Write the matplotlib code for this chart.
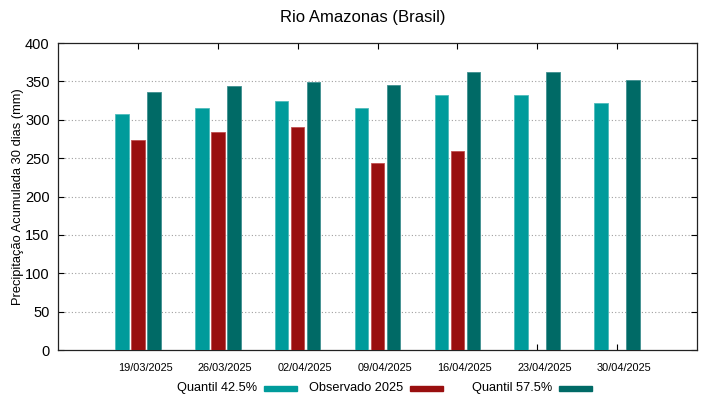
import matplotlib.pyplot as plt
from matplotlib.patches import Rectangle
import numpy as np

plt.rcParams['font.family'] = ['Liberation Sans', 'DejaVu Sans']

# Data
datas = ['19/03/2025', '26/03/2025', '02/04/2025', '09/04/2025',
         '16/04/2025', '23/04/2025', '30/04/2025']
q425 = [307.5, 315.7, 324, 315.7, 332.7, 332.7, 321.8]
observado = [273.6, 284, 290, 243.6, 259, np.nan, np.nan]
q575 = [335.7, 344, 349, 345, 362.6, 362.6, 351.8]
series_names = ['Quantil 42.5%', 'Observado 2025', 'Quantil 57.5%']

c_q425 = '#009b9b'
c_obs = '#990f0f'
c_q575 = '#006a66'
colors = [c_q425, c_obs, c_q575]

W, H = 719, 399
fig = plt.figure(figsize=(W / 100, H / 100), dpi=100)
ax = fig.add_axes([0.0807, 0.1228, 0.8887, 0.7694])

x = np.arange(len(datas)) + 1
w = 0.17
step = 0.2
ax.bar(x - step, q425, w, color=c_q425, edgecolor='#4fbcbc', linewidth=0.6, zorder=3)
ax.bar(x, observado, w, color=c_obs, edgecolor='#c05050', linewidth=0.6, zorder=3)
ax.bar(x + step, q575, w, color=c_q575, edgecolor='#3f9090', linewidth=0.6, zorder=3)

ax.set_xlim(0, 8)
ax.set_ylim(0, 400)
ax.set_yticks(range(0, 401, 50))
# tick marks at the cluster centre, labels a bit to the right (as in the original)
ax.set_xticks(x)
ax.set_xticklabels([])
ax.set_xticks(x + 0.09, minor=True)
ax.set_xticklabels(datas, minor=True, fontsize=7.9)
ax.tick_params(axis='x', which='minor', length=0, pad=9)
ax.tick_params(axis='x', which='major', direction='in', length=4, top=True)

ax.tick_params(axis='y', direction='in', length=4, labelsize=10.5, right=True, pad=6)

for v in range(50, 400, 50):
    ax.axhline(v, color='#a0a0a0', linestyle=(0, (1, 2)), linewidth=0.8, zorder=1)

for s in ax.spines.values():
    s.set_linewidth(0.9)
    s.set_color('#222222')

ax.set_ylabel('Precipitação Acumulada 30 dias (mm)', fontsize=9.3, labelpad=1)
fig.suptitle('Rio Amazonas (Brasil)', fontsize=12, x=0.505, y=0.975)

# gnuplot-style key: right-aligned text followed by a colour sample, fixed column width
key_text_right = [257, 403, 552]
key_y = 388
for name, col, tx in zip(series_names, colors, key_text_right):
    fig.text(tx / W, 1 - key_y / H, name, ha='right', va='center', fontsize=9.2)
    fig.add_artist(Rectangle(((tx + 7) / W, 1 - (key_y + 2.5) / H), 33 / W, 5 / H,
                             transform=fig.transFigure, color=col))

fig.savefig('out.png', dpi=100)
